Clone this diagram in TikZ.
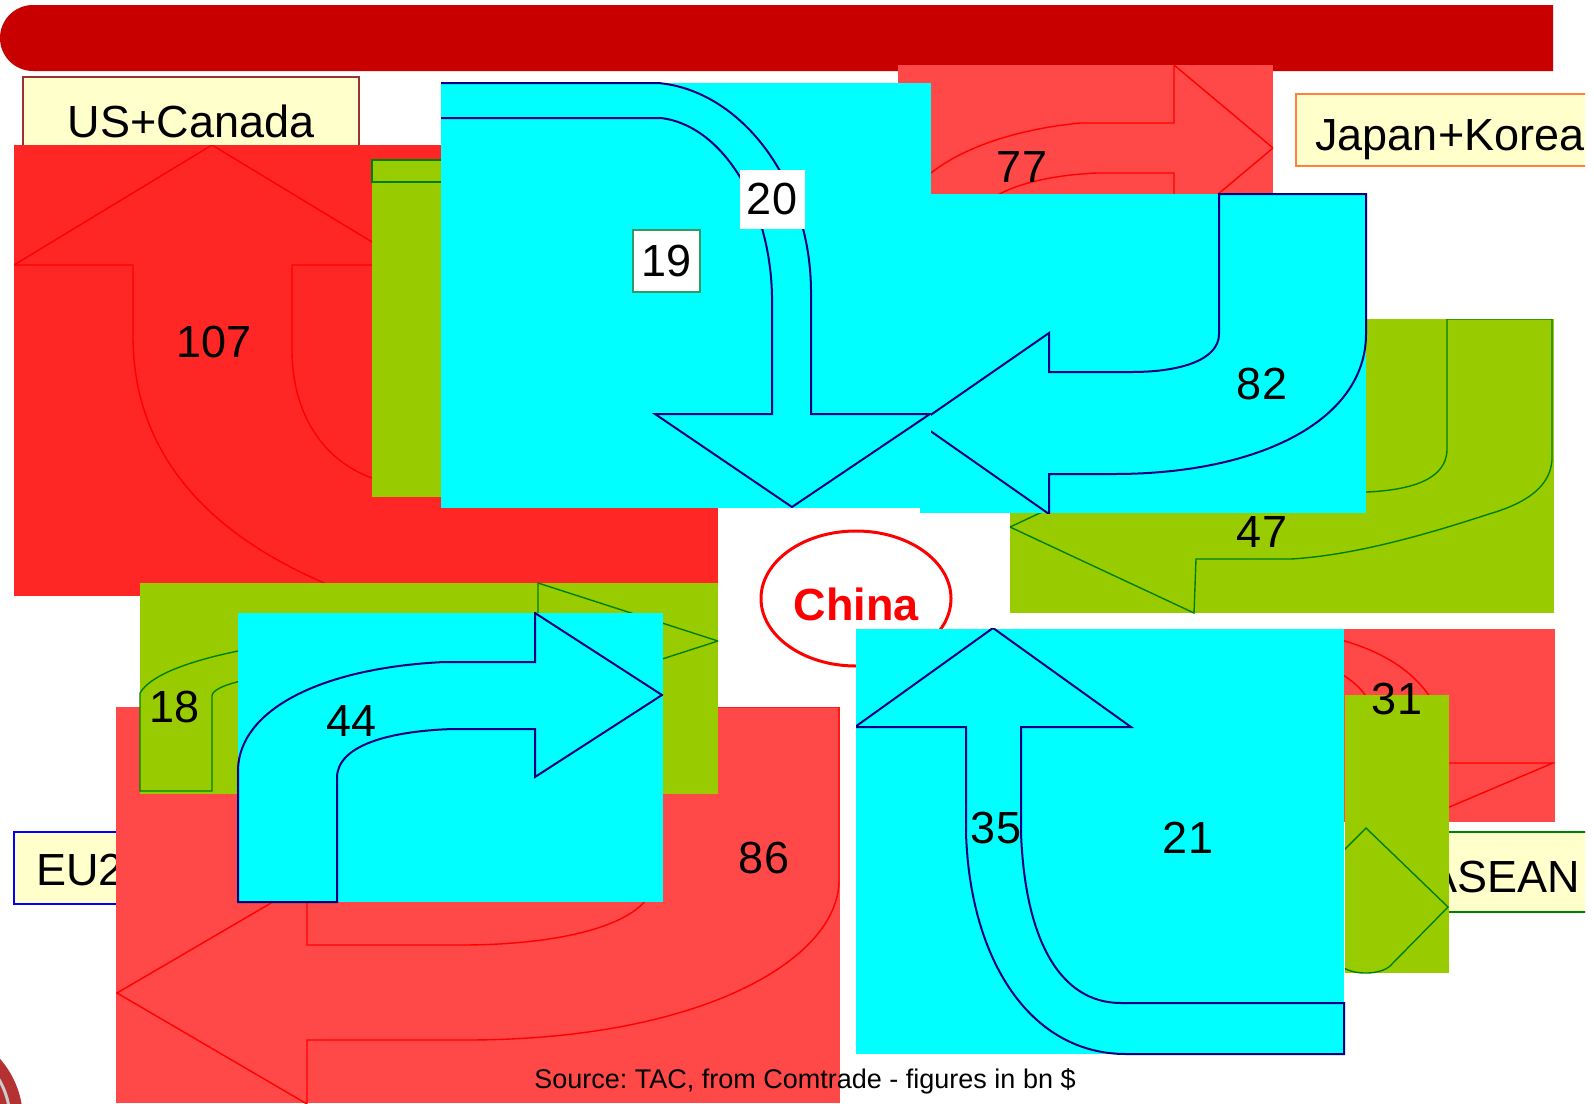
\documentclass[tikz,border=0pt]{standalone}
\usepackage{fontspec}
\setmainfont{Liberation Sans}
\usetikzlibrary{shapes.geometric}
\definecolor{barred}{RGB}{200,0,0}
\definecolor{usred}{RGB}{255,38,38}
\definecolor{lightred}{RGB}{255,72,72}
\definecolor{leaf}{RGB}{153,204,0}
\definecolor{leafline}{RGB}{0,128,0}
\definecolor{aqua}{RGB}{0,255,255}
\definecolor{navyline}{RGB}{0,0,128}
\definecolor{paleyellow}{RGB}{255,255,204}
\definecolor{usborder}{RGB}{153,51,51}
\definecolor{jkborder}{RGB}{255,128,64}
\definecolor{tealline}{RGB}{51,153,102}
\definecolor{logored}{RGB}{180,50,50}
\tikzset{
    num/.style = {font=\fontsize{22.5}{27}\selectfont, inner sep=0pt, anchor=base},
    region/.style = {font=\fontsize{22.5}{27}\selectfont, inner sep=0pt},
    lblbox/.style = {fill=paleyellow, line width=0.8pt},
    redarrow/.style = {draw=red, line width=0.7pt},
    greenarrow/.style = {draw=leafline, line width=0.7pt},
    bluearrow/.style = {draw=navyline, line width=1pt}
}
\frenchspacing
\begin{document}
\begin{tikzpicture}[x=0.5pt, y=-0.5pt]
\useasboundingbox (0,0) rectangle (1594,1103);
\begin{scope}
\clip (0,0) rectangle (1585,1103);

% Title bar
\fill[barred] (1553,71) -- (1553,5) -- (700,5) [rounded corners=16.5pt] -- (0,5) -- (0,71) -- (700,71) [sharp corners] -- cycle;

% US+Canada
\filldraw[lblbox, draw=usborder] (23,77) rectangle (359,170);
\node[region, anchor=base] (uscanada) at (191,137) {US+Canada};

% 107 panel
\fill[usred] (14,145) rectangle (718,596);
\begin{scope}
\clip (14,145) rectangle (718,596);
\draw[redarrow] (212,145) -- (410,265) -- (292,265) -- (292,350) .. controls (292,420) and (330,475) .. (400,485) -- (720,485);
\draw[redarrow] (212,145) -- (14,265) -- (133,265) -- (133,336) .. controls (133,470) and (230,560) .. (400,610);
\end{scope}
\node[num] (v107) at (214,357) {107};

% green panel behind 19
\fill[leaf] (372,160) rectangle (700,497);
\draw[greenarrow] (441,160) -- (372,160) -- (372,182) -- (441,182);

% 77 panel
\fill[lightred] (898,65) rectangle (1273,195);
\begin{scope}
\clip (898,65) rectangle (1273,195);
\draw[redarrow] (931,173) .. controls (960,150) and (1010,130) .. (1080,123) -- (1174,123) -- (1174,65) -- (1273,148) -- (1174,231) -- (1174,173) -- (1097,173) .. controls (1050,175) and (1010,185) .. (990,200);
\end{scope}
\node[num] (v77) at (1022,182) {77};

% Japan+Korea
\filldraw[lblbox, draw=jkborder] (1296,94) rectangle (1620,166);
\node[region, anchor=base west] (japankorea) at (1315,150) {Japan+Korea};

% 47 panel
\fill[leaf] (1010,319) rectangle (1554,613);
\begin{scope}
\clip (1010,319) rectangle (1554,613);
\draw[greenarrow] (1447,319) -- (1447,449) .. controls (1447,480) and (1410,490) .. (1367,492) -- (1194,492) -- (1194,441) -- (1010,527) -- (1194,613) -- (1196,559) -- (1291,559) .. controls (1360,555) and (1440,530) .. (1489,514) .. controls (1520,505) and (1550,490) .. (1552,460) -- (1552,319) -- cycle;
\end{scope}
\node[num] (v47) at (1262,547) {47};

% 82 panel
\fill[aqua] (920,194) rectangle (1366,513);
\begin{scope}
\clip (920,193) rectangle (1367.5,513);
\draw[bluearrow] (1219,194) -- (1219,334) .. controls (1219,360) and (1180,372) .. (1132,372) -- (1049,372) -- (1049,333) -- (919,423) -- (1049,514) -- (1049,474) -- (1114,474) .. controls (1260,474) and (1366,420) .. (1366,334) -- (1366,194) -- cycle;
\end{scope}
\node[num] (v82) at (1262,399) {82};

% 19 / 20 panel
\fill[aqua] (441,83) rectangle (931,508);
\begin{scope}
\clip (441,81) rectangle (931,508);
\draw[bluearrow] (430,83) -- (658,83) .. controls (740,90) and (810,180) .. (811,290) -- (811,414) -- (930,414) -- (792,507) -- (655,414) -- (772,414) -- (772,296) .. controls (770,200) and (720,125) .. (661,118) -- (430,118);
\end{scope}
\node[num, anchor=center, fill=white, minimum width=32.5pt, minimum height=29.5pt] (v20) at (772,199) {20};
\node[num, anchor=center, draw=tealline, fill=white, line width=0.6pt, minimum width=33.5pt, minimum height=31pt] (v19) at (666.5,261) {19};

% China
\node[ellipse, draw=red, fill=white, line width=1.5pt, minimum width=95pt, minimum height=67.5pt, inner sep=0pt, text=red, font=\fontsize{22.5}{27}\selectfont\bfseries, text height=21.5pt, text depth=0pt] (china) at (856,598.5) {China};

% EU27
\filldraw[lblbox, draw=blue] (14,832) rectangle (200,904);
\node[region, anchor=base west] (eu) at (36,885) {EU27};

% 86 panel
\fill[lightred] (116,707) rectangle (840,1103);
\begin{scope}
\clip (116,707) rectangle (840,1103);
\draw[redarrow] (655,707) -- (655,880) .. controls (650,925) and (560,945) .. (461,945) -- (307,945) -- (307,882) -- (117,993) -- (307,1104) -- (307,1040) -- (466,1040) .. controls (700,1040) and (839,960) .. (839,880) -- (839,707) -- cycle;
\end{scope}
\node[num] (v86) at (764,873) {86};

% 18 panel
\fill[leaf] (140,583) rectangle (718,794);
\begin{scope}
\clip (139,582) rectangle (718,794);
\draw[greenarrow] (140,791) -- (140,693) .. controls (150,676) and (185,662) .. (238,651) .. controls (300,638) and (380,628) .. (440,626) -- (538,626) -- (538,583) -- (718,641) -- (538,699) -- (538,677) -- (440,677) .. controls (300,677) and (250,678) .. (237,682) .. controls (225,685) and (212,690) .. (212,696) -- (212,791) -- cycle;
\end{scope}
\node[num] (v18) at (175,722) {18};

% 44 panel
\fill[aqua] (238,613) rectangle (663,902);
\begin{scope}
\clip (237,612) rectangle (663,903);
\draw[bluearrow] (238,902) -- (238,769) .. controls (240,710) and (320,668) .. (444,662) -- (535,662) -- (535,613) -- (662,695) -- (535,777) -- (535,729) -- (453,729) .. controls (390,731) and (337,745) .. (337,778) -- (337,902) -- cycle;
\end{scope}
\node[num] (v44) at (352,736) {44};

% 31 panel
\fill[lightred] (1049,629) rectangle (1555,822);
\begin{scope}
\clip (1049,629) rectangle (1555,822);
\draw[redarrow] (1320,635) .. controls (1370,645) and (1410,665) .. (1432,700);
\draw[redarrow] (1330,668) .. controls (1345,675) and (1360,685) .. (1368,700);
\draw[redarrow] (1440,763) -- (1553,763) -- (1440,811);
\end{scope}

% 35 / 21 panel
\fill[aqua] (856,629) rectangle (1344,1054);
\begin{scope}
\clip (856,628) rectangle (1345,1055);
\draw[bluearrow] (993,628) -- (1131,727) -- (1021,727) -- (1021,833) .. controls (1025,940) and (1060,1003) .. (1121,1003) -- (1344,1003) -- (1344,1054) -- (1126,1054) .. controls (1030,1054) and (970,960) .. (966,833) -- (966,727) -- (855,727) -- cycle;
\end{scope}
\node[num] (v35) at (996,843) {35};
\node[num] (v21) at (1188,853) {21};

% ASEAN
\filldraw[lblbox, draw=leafline] (1400,832) rectangle (1620,912);
\node[region, anchor=base east] (asean) at (1580,892) {ASEAN};

% green panel 21
\fill[leaf] (1345,695) rectangle (1449,973);
\begin{scope}
\clip (1345,695) rectangle (1449,973);
\draw[greenarrow] (1344,850) -- (1366,828) -- (1448,907) -- (1390,966) .. controls (1380,975) and (1355,975) .. (1344,968);
\end{scope}
\node[num] (v31) at (1397,714) {31};

% Source
\node[font=\fontsize{13.5}{16}\selectfont, inner sep=0pt, anchor=base] (source) at (805,1088) {Source: TAC, from Comtrade - figures in bn \$};

% logo corner
\begin{scope}
\clip (0,1000) rectangle (60,1103);
\fill[logored] (-70,1120) circle [radius=93];
\draw[gray!40, line width=1.5pt] (-70,1120) circle [radius=80];
\end{scope}
\end{scope}
\end{tikzpicture}
\end{document}
